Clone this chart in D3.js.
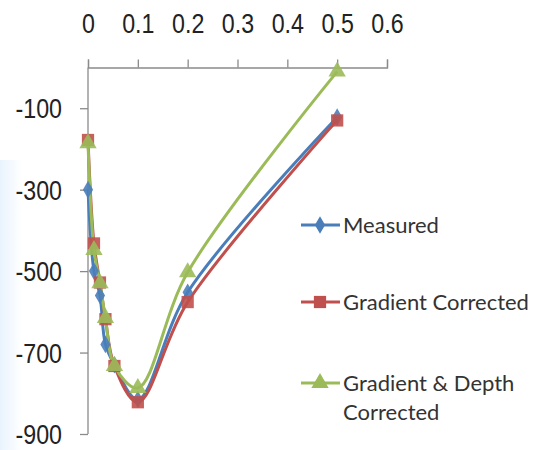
<!DOCTYPE html>
<html>
<head>
<meta charset="utf-8">
<script src="https://cdn.jsdelivr.net/npm/d3@7"></script>
<style>
  body { margin: 0; background: #fff; }
  svg { display: block; }
</style>
</head>
<body>
<svg id="chart" width="534" height="450"></svg>
<script>
// depth offsets (x) and the three series (y)
const xVals = [0, 0.012, 0.024, 0.035, 0.053, 0.1, 0.2, 0.5];
const measured = [-300, -500, -560, -680, -730, -815, -552, -122];
const gradientCorrected = [-178, -432, -528, -618, -733, -822, -576, -130];
const gradientDepthCorrected = [-186, -448, -530, -615, -733, -787, -503, -10];

const seriesNames = ['Measured', 'Gradient Corrected', 'Gradient & Depth Corrected'];
const xTicks = [0, 0.1, 0.2, 0.3, 0.4, 0.5, 0.6];
const yTicks = [-100, -300, -500, -700, -900];

const svg = d3.select('#chart');

// faint blue tint on the left edge (photo of a slide)
const defs = svg.append('defs');
const grad = defs.append('linearGradient').attr('id', 'tint')
  .attr('x1', 0).attr('x2', 1).attr('y1', 0).attr('y2', 0);
grad.append('stop').attr('offset', 0).attr('stop-color', '#e9f3fd');
grad.append('stop').attr('offset', 1).attr('stop-color', '#ffffff');
svg.append('rect').attr('x', 0).attr('y', 160).attr('width', 22).attr('height', 290)
  .attr('fill', 'url(#tint)');

const x = d3.scaleLinear().domain([0, 0.6]).range([88, 387]);
const y = d3.scaleLinear().domain([0, -900]).range([67.5, 434]);

// x axis on top
const xAxis = svg.append('g')
  .attr('transform', `translate(0,${y(0)})`)
  .call(d3.axisTop(x).tickValues(xTicks).tickSize(8).tickPadding(27)
    .tickFormat((d) => d === 0 ? '0' : d3.format('.1f')(d)));

// y axis (plain hyphen for the minus sign, like the original)
const yAxis = svg.append('g')
  .attr('transform', `translate(${x(0)},0)`)
  .call(d3.axisLeft(y).tickValues(yTicks).tickSize(8).tickPadding(18)
    .tickFormat((d) => String(d)));

[xAxis, yAxis].forEach((ax) => {
  ax.select('.domain').attr('stroke', '#8a8a8a').attr('stroke-width', 1.3);
  ax.selectAll('.tick line').attr('stroke', '#8a8a8a').attr('stroke-width', 1.3);
  ax.selectAll('.tick text')
    .attr('fill', '#222')
    .style('font-family', '"Liberation Sans", Arial, sans-serif')
    .style('font-size', '27px');
  // the original labels are a bit condensed
  ax.selectAll('.tick text').each(function () {
    const w = this.getComputedTextLength();
    d3.select(this).attr('textLength', w * 0.86).attr('lengthAdjust', 'spacingAndGlyphs');
  });
});
yAxis.select('.domain').attr('d', `M-0,${y(0)}V${y(-900)}`);
yAxis.selectAll('.tick text').attr('dy', '0.35em');

const colors = ['#4a7ebb', '#c0504d', '#9bbb59'];
const data = [measured, gradientCorrected, gradientDepthCorrected];

const line = d3.line()
  .x((d, i) => x(xVals[i]))
  .y((d) => y(d))
  .curve(d3.curveCatmullRom.alpha(0.5));

const symbols = [d3.symbolDiamond, d3.symbolSquare, d3.symbolTriangle];
const symSizes = [90, 150, 130];

data.forEach((vals, si) => {
  svg.append('path')
    .datum(vals)
    .attr('d', line)
    .attr('fill', 'none')
    .attr('stroke', colors[si])
    .attr('stroke-width', 3);
});

data.forEach((vals, si) => {
  svg.append('g').selectAll('path')
    .data(vals)
    .enter()
    .append('path')
    .attr('transform', (d, i) => `translate(${x(xVals[i])},${y(d)})`)
    .attr('d', d3.symbol().type(symbols[si]).size(symSizes[si]))
    .attr('fill', colors[si])
    .attr('opacity', 0.9);
});

// legend
const legendY = [225, 302, 383];
const legend = svg.append('g');
seriesNames.forEach((name, si) => {
  const g = legend.append('g').attr('transform', `translate(0,${legendY[si]})`);
  g.append('line').attr('x1', 301).attr('x2', 340).attr('y1', 0).attr('y2', 0)
    .attr('stroke', colors[si]).attr('stroke-width', 3);
  g.append('path').attr('transform', 'translate(320,0)')
    .attr('d', d3.symbol().type(symbols[si]).size(symSizes[si]))
    .attr('fill', colors[si]);
  const t = g.append('text').attr('x', 343).attr('dy', '0.35em')
    .attr('fill', '#333')
    .style('font-family', 'Lato, "Open Sans", sans-serif')
    .style('font-size', '22px');
  if (si === 2) {
    t.append('tspan').attr('x', 343).text('Gradient & Depth');
    t.append('tspan').attr('x', 343).attr('dy', '1.35em').text('Corrected');
  } else {
    t.text(name);
  }
});
</script>
</body>
</html>
